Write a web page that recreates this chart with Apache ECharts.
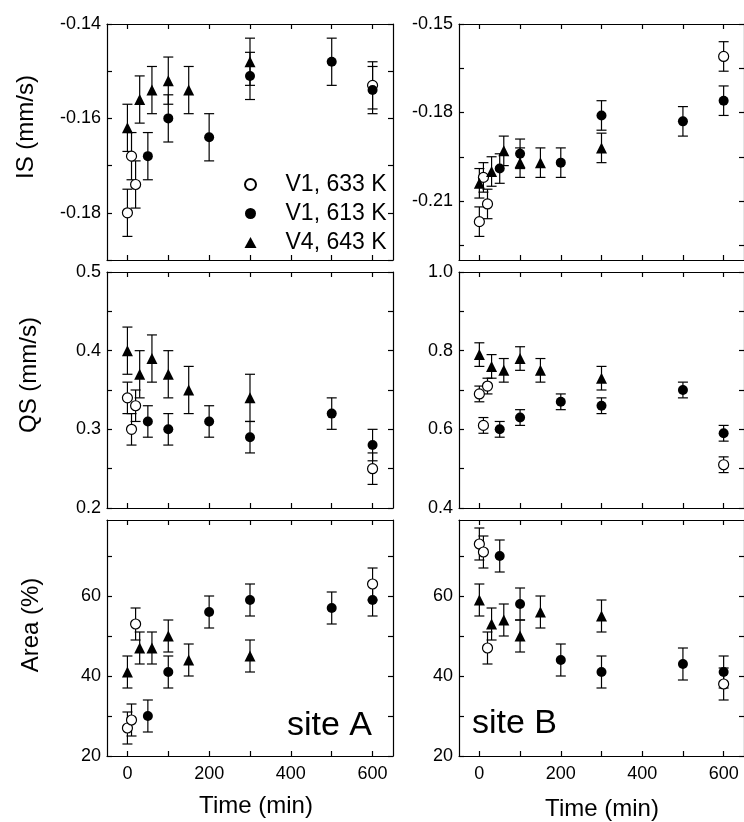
<!DOCTYPE html>
<html>
<head>
<meta charset="utf-8">
<script src="https://cdn.jsdelivr.net/npm/echarts@6/dist/echarts.min.js"></script>
<style>
  html, body { margin: 0; padding: 0; background: #fff; }
  #chart { width: 744px; height: 822px; }
</style>
</head>
<body>
<div id="chart"></div>
<script>
// Annealing time (min) for each sample series
const timeV1_633 = [0, 10, 20, 600];
const timeV1_613 = [50, 100, 200, 300, 500, 600];
const timeV4_643 = [0, 30, 60, 100, 150, 300];

const seriesNames = ['V1, 633 K', 'V1, 613 K', 'V4, 643 K'];

// Site A — isomer shift (mm/s)
const isA_V1_633 = [-0.180, -0.168, -0.174, -0.153];
const isA_V1_613 = [-0.168, -0.160, -0.164, -0.151, -0.148, -0.154];
const isA_V4_643 = [-0.162, -0.156, -0.154, -0.152, -0.154, -0.148];
const isA_V1_633_err = [0.005, 0.005, 0.005, 0.005];
const isA_V1_613_err = [0.005, 0.005, 0.005, 0.005, 0.005, 0.005];
const isA_V4_643_err = [0.005, 0.005, 0.005, 0.005, 0.005, 0.005];

// Site A — quadrupole splitting (mm/s)
const qsA_V1_633 = [0.34, 0.30, 0.33, 0.25];
const qsA_V1_613 = [0.31, 0.30, 0.31, 0.29, 0.32, 0.28];
const qsA_V4_643 = [0.40, 0.37, 0.39, 0.37, 0.35, 0.34];
const qsA_V1_633_err = [0.02, 0.02, 0.02, 0.02];
const qsA_V1_613_err = [0.02, 0.02, 0.02, 0.02, 0.02, 0.02];
const qsA_V4_643_err = [0.03, 0.03, 0.03, 0.03, 0.03, 0.03];

// Site A — relative area (%)
const areaA_V1_633 = [27, 29, 53, 63];
const areaA_V1_613 = [30, 41, 56, 59, 57, 59];
const areaA_V4_643 = [41, 47, 47, 50, 44, 45];
const areaA_V1_633_err = [4, 4, 4, 4];
const areaA_V1_613_err = [4, 4, 4, 4, 4, 4];
const areaA_V4_643_err = [4, 4, 4, 4, 4, 4];

// Site B — isomer shift (mm/s)
const isB_V1_633 = [-0.217, -0.202, -0.211, -0.161];
const isB_V1_613 = [-0.199, -0.194, -0.197, -0.181, -0.183, -0.176];
const isB_V4_643 = [-0.204, -0.200, -0.193, -0.197, -0.197, -0.192];
const isB_V1_633_err = [0.005, 0.005, 0.005, 0.005];
const isB_V1_613_err = [0.005, 0.005, 0.005, 0.005, 0.005, 0.005];
const isB_V4_643_err = [0.005, 0.005, 0.005, 0.005, 0.005, 0.005];

// Site B — quadrupole splitting (mm/s)
const qsB_V1_633 = [0.69, 0.61, 0.71, 0.51];
const qsB_V1_613 = [0.60, 0.63, 0.67, 0.66, 0.70, 0.59];
const qsB_V4_643 = [0.79, 0.76, 0.75, 0.78, 0.75, 0.73];
const qsB_V1_633_err = [0.02, 0.02, 0.02, 0.02];
const qsB_V1_613_err = [0.02, 0.02, 0.02, 0.02, 0.02, 0.02];
const qsB_V4_643_err = [0.03, 0.03, 0.03, 0.03, 0.03, 0.03];

// Site B — relative area (%)
const areaB_V1_633 = [73, 71, 47, 38];
const areaB_V1_613 = [70, 58, 44, 41, 43, 41];
const areaB_V4_643 = [59, 53, 54, 50, 56, 55];
const areaB_V1_633_err = [4, 4, 4, 4];
const areaB_V1_613_err = [4, 4, 4, 4, 4, 4];
const areaB_V4_643_err = [4, 4, 4, 4, 4, 4];

// Axis ticks and labelled values
const timeRange = [-50, 650];
const timeTicks = [0, 100, 200, 300, 400, 500, 600];
const timeLabels = [0, 200, 400, 600];

const isA_range = [-0.19, -0.14];
const isA_ticks = [-0.19, -0.18, -0.17, -0.16, -0.15, -0.14];
const isA_labels = [-0.18, -0.16, -0.14];
const qsA_range = [0.2, 0.5];
const qsA_ticks = [0.2, 0.25, 0.3, 0.35, 0.4, 0.45, 0.5];
const qsA_labels = [0.2, 0.3, 0.4, 0.5];
const area_range = [20, 79];
const area_ticks = [20, 30, 40, 50, 60, 70];
const area_labels = [20, 40, 60];

const isB_range = [-0.23, -0.15];
const isB_ticks = [-0.225, -0.21, -0.195, -0.18, -0.165, -0.15];
const isB_labels = [-0.21, -0.18, -0.15];
const qsB_range = [0.4, 1.0];
const qsB_ticks = [0.4, 0.5, 0.6, 0.7, 0.8, 0.9, 1.0];
const qsB_labels = [0.4, 0.6, 0.8, 1.0];

const FONT = '"Liberation Sans", Arial, Helvetica, sans-serif';
const INK = '#000';

// Panel layout: two columns (site A, site B) by three rows (IS, QS, Area)
const colLeft = [107, 459];
const colWidth = 286;
const rowTop = [24, 272, 520];
const rowHeight = 236;

const panels = [
  { col: 0, row: 0, range: isA_range, ticks: isA_ticks, labels: isA_labels, fmt: v => v.toFixed(2),
    data: [[isA_V1_633, isA_V1_633_err], [isA_V1_613, isA_V1_613_err], [isA_V4_643, isA_V4_643_err]] },
  { col: 0, row: 1, range: qsA_range, ticks: qsA_ticks, labels: qsA_labels, fmt: v => v.toFixed(1),
    data: [[qsA_V1_633, qsA_V1_633_err], [qsA_V1_613, qsA_V1_613_err], [qsA_V4_643, qsA_V4_643_err]] },
  { col: 0, row: 2, range: area_range, ticks: area_ticks, labels: area_labels, fmt: v => String(Math.round(v)),
    data: [[areaA_V1_633, areaA_V1_633_err], [areaA_V1_613, areaA_V1_613_err], [areaA_V4_643, areaA_V4_643_err]] },
  { col: 1, row: 0, range: isB_range, ticks: isB_ticks, labels: isB_labels, fmt: v => v.toFixed(2),
    data: [[isB_V1_633, isB_V1_633_err], [isB_V1_613, isB_V1_613_err], [isB_V4_643, isB_V4_643_err]] },
  { col: 1, row: 1, range: qsB_range, ticks: qsB_ticks, labels: qsB_labels, fmt: v => v.toFixed(1),
    data: [[qsB_V1_633, qsB_V1_633_err], [qsB_V1_613, qsB_V1_613_err], [qsB_V4_643, qsB_V4_643_err]] },
  { col: 1, row: 2, range: area_range, ticks: area_ticks, labels: area_labels, fmt: v => String(Math.round(v)),
    data: [[areaB_V1_633, areaB_V1_633_err], [areaB_V1_613, areaB_V1_613_err], [areaB_V4_643, areaB_V4_643_err]] }
];

const seriesTimes = [timeV1_633, timeV1_613, timeV4_643];
const markerStyles = [
  { symbol: 'circle', symbolSize: 10, itemStyle: { color: '#fff', borderColor: INK, borderWidth: 1.2, opacity: 1 } },
  { symbol: 'circle', symbolSize: 10, itemStyle: { color: INK, borderColor: INK, borderWidth: 0, opacity: 1 } },
  { symbol: 'triangle', symbolSize: 11, itemStyle: { color: INK, borderColor: INK, borderWidth: 0, opacity: 1 } }
];

// Vertical error bar with short caps
function renderErrorBar(params, api) {
  const x = api.value(0);
  const lo = api.coord([x, api.value(1)]);
  const hi = api.coord([x, api.value(2)]);
  const half = 5;
  const style = { stroke: INK, lineWidth: 1.2, fill: null };
  return {
    type: 'group',
    children: [
      { type: 'line', shape: { x1: lo[0], y1: lo[1], x2: hi[0], y2: hi[1] }, style: style },
      { type: 'line', shape: { x1: lo[0] - half, y1: lo[1], x2: lo[0] + half, y2: lo[1] }, style: style },
      { type: 'line', shape: { x1: hi[0] - half, y1: hi[1], x2: hi[0] + half, y2: hi[1] }, style: style }
    ]
  };
}

const axisLineStyle = { show: true, onZero: false, lineStyle: { color: INK, width: 1.2 } };
const tickStyle = { inside: true, length: 5, lineStyle: { color: INK, width: 1.2 } };
const labelText = { color: INK, fontFamily: FONT, fontSize: 18 };

const grid = [], xAxis = [], yAxis = [], series = [];

panels.forEach((p, gi) => {
  grid.push({ left: colLeft[p.col], top: rowTop[p.row], width: colWidth, height: rowHeight });
  const bottomRow = p.row === 2;
  // bottom time axis (data axis) and mirrored top axis
  xAxis.push({
    type: 'value', gridIndex: gi, position: 'bottom', min: timeRange[0], max: timeRange[1],
    axisLine: axisLineStyle, splitLine: { show: false },
    axisTick: Object.assign({ customValues: timeTicks }, tickStyle),
    axisLabel: Object.assign({ show: bottomRow, customValues: timeLabels, margin: 9 }, labelText)
  });
  xAxis.push({
    type: 'value', gridIndex: gi, position: 'top', min: timeRange[0], max: timeRange[1],
    axisLine: axisLineStyle, splitLine: { show: false },
    axisTick: Object.assign({ customValues: timeTicks }, tickStyle),
    axisLabel: { show: false }
  });
  // left value axis (data axis) and mirrored right axis
  yAxis.push({
    type: 'value', gridIndex: gi, position: 'left', min: p.range[0], max: p.range[1],
    axisLine: axisLineStyle, splitLine: { show: false },
    axisTick: Object.assign({ customValues: p.ticks }, tickStyle),
    axisLabel: Object.assign({ customValues: p.labels, margin: 6, formatter: p.fmt }, labelText)
  });
  yAxis.push({
    type: 'value', gridIndex: gi, position: 'right', min: p.range[0], max: p.range[1],
    axisLine: axisLineStyle, splitLine: { show: false },
    axisTick: Object.assign({ customValues: p.ticks }, tickStyle),
    axisLabel: { show: false }
  });

  const xi = gi * 2, yi = gi * 2;
  p.data.forEach((pair, si) => {
    const vals = pair[0], errs = pair[1], times = seriesTimes[si];
    series.push({
      type: 'custom', name: 'err' + gi + '-' + si, xAxisIndex: xi, yAxisIndex: yi,
      renderItem: renderErrorBar, clip: false, silent: true, z: 2,
      encode: { x: 0, y: [1, 2] },
      data: times.map((t, i) => [t, vals[i] - errs[i], vals[i] + errs[i]])
    });
  });
  p.data.forEach((pair, si) => {
    const vals = pair[0], times = seriesTimes[si];
    series.push(Object.assign({
      type: 'scatter', name: seriesNames[si], xAxisIndex: xi, yAxisIndex: yi, z: 3,
      emphasis: { disabled: true }, silent: true,
      data: times.map((t, i) => [t, vals[i]])
    }, markerStyles[si]));
  });
});

const titleStyle = { fill: INK, fontFamily: FONT, fontSize: 24, align: 'center', verticalAlign: 'middle' };
function txt(text, x, y, extra) {
  return { type: 'text', x: x, y: y, rotation: extra && extra.rot || 0, silent: true,
           style: Object.assign({ text: text }, titleStyle, extra && extra.style || {}) };
}

const option = {
  animation: false,
  backgroundColor: '#fff',
  grid: grid,
  xAxis: xAxis,
  yAxis: yAxis,
  series: series,
  legend: {
    data: seriesNames,
    orient: 'vertical',
    left: 239, top: 168,
    itemWidth: 12, itemHeight: 11, itemGap: 6,
    selectedMode: false,
    textStyle: { color: INK, fontFamily: FONT, fontSize: 23, padding: [0, 0, 0, 24] }
  },
  graphic: [
    txt('IS (mm/s)', 26, 127, { rot: Math.PI / 2 }),
    txt('QS (mm/s)', 29, 375, { rot: Math.PI / 2 }),
    txt('Area (%)', 31, 625, { rot: Math.PI / 2 }),
    txt('Time (min)', 256, 806),
    txt('Time (min)', 602, 809),
    txt('site A', 372, 726, { style: { fontSize: 34, align: 'right' } }),
    txt('site B', 472, 724, { style: { fontSize: 34, align: 'left' } })
  ]
};

const chart = echarts.init(document.getElementById('chart'), null, { renderer: 'canvas' });
chart.setOption(option);
</script>
</body>
</html>
